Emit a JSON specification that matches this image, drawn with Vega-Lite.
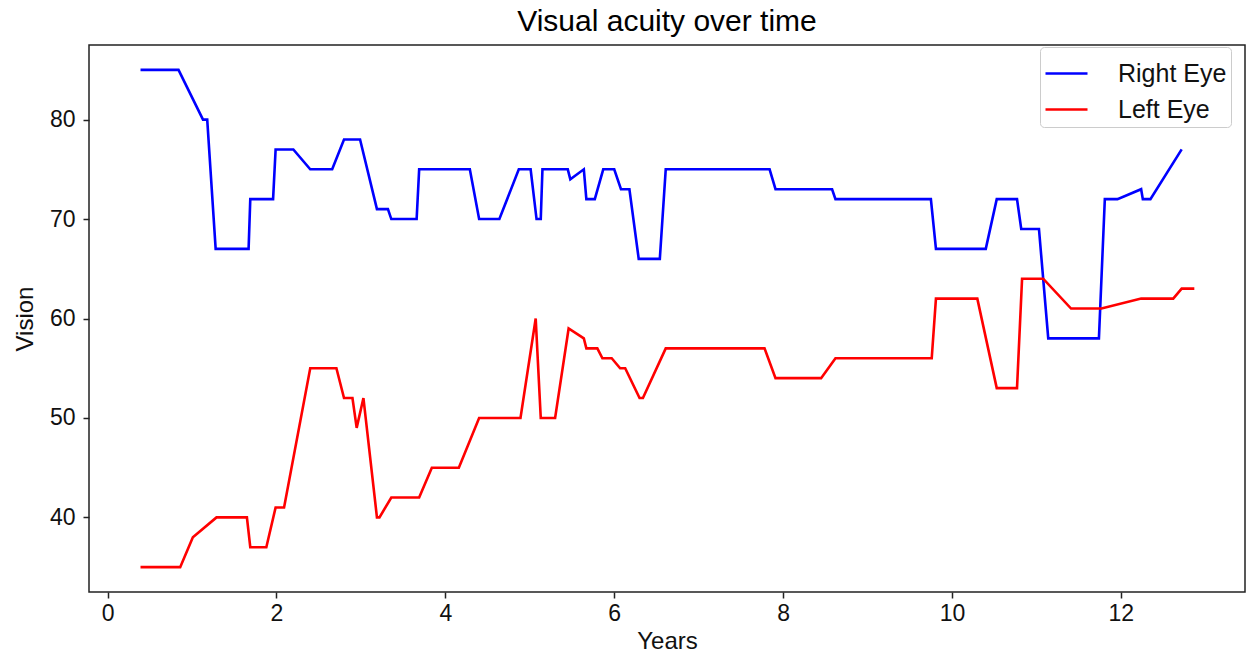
{
  "$schema": "https://vega.github.io/schema/vega-lite/v6.json",
  "autosize": "none",
  "width": 1156,
  "height": 547,
  "padding": {"left": 89, "top": 45, "right": 3, "bottom": 63},
  "background": "white",
  "title": {"text": "Visual acuity over time", "fontSize": 30, "font": "Liberation Sans", "fontWeight": "normal", "color": "#000", "anchor": "middle", "offset": 8},
  "config": {
    "font": "Liberation Sans",
    "view": {"stroke": "#222", "strokeWidth": 1.5},
    "axis": {"grid": false, "domain": false, "tickColor": "#222", "tickWidth": 1.5, "tickSize": 6, "labelFontSize": 23, "labelColor": "#111", "titleFontSize": 24, "titleFontWeight": "normal", "titleColor": "#111", "labelFont": "Liberation Sans", "titleFont": "Liberation Sans"}
  },
  "data": {"values": [
    {"Years": 0.39, "Vision": 85, "Eye": "Right Eye"},
    {"Years": 0.84, "Vision": 85, "Eye": "Right Eye"},
    {"Years": 1.13, "Vision": 80, "Eye": "Right Eye"},
    {"Years": 1.18, "Vision": 80, "Eye": "Right Eye"},
    {"Years": 1.28, "Vision": 67, "Eye": "Right Eye"},
    {"Years": 1.67, "Vision": 67, "Eye": "Right Eye"},
    {"Years": 1.69, "Vision": 72, "Eye": "Right Eye"},
    {"Years": 1.96, "Vision": 72, "Eye": "Right Eye"},
    {"Years": 1.99, "Vision": 77, "Eye": "Right Eye"},
    {"Years": 2.2, "Vision": 77, "Eye": "Right Eye"},
    {"Years": 2.4, "Vision": 75, "Eye": "Right Eye"},
    {"Years": 2.66, "Vision": 75, "Eye": "Right Eye"},
    {"Years": 2.8, "Vision": 78, "Eye": "Right Eye"},
    {"Years": 2.99, "Vision": 78, "Eye": "Right Eye"},
    {"Years": 3.19, "Vision": 71, "Eye": "Right Eye"},
    {"Years": 3.32, "Vision": 71, "Eye": "Right Eye"},
    {"Years": 3.36, "Vision": 70, "Eye": "Right Eye"},
    {"Years": 3.66, "Vision": 70, "Eye": "Right Eye"},
    {"Years": 3.69, "Vision": 75, "Eye": "Right Eye"},
    {"Years": 4.29, "Vision": 75, "Eye": "Right Eye"},
    {"Years": 4.4, "Vision": 70, "Eye": "Right Eye"},
    {"Years": 4.64, "Vision": 70, "Eye": "Right Eye"},
    {"Years": 4.87, "Vision": 75, "Eye": "Right Eye"},
    {"Years": 5.01, "Vision": 75, "Eye": "Right Eye"},
    {"Years": 5.08, "Vision": 70, "Eye": "Right Eye"},
    {"Years": 5.13, "Vision": 70, "Eye": "Right Eye"},
    {"Years": 5.15, "Vision": 75, "Eye": "Right Eye"},
    {"Years": 5.45, "Vision": 75, "Eye": "Right Eye"},
    {"Years": 5.48, "Vision": 74, "Eye": "Right Eye"},
    {"Years": 5.64, "Vision": 75, "Eye": "Right Eye"},
    {"Years": 5.67, "Vision": 72, "Eye": "Right Eye"},
    {"Years": 5.77, "Vision": 72, "Eye": "Right Eye"},
    {"Years": 5.87, "Vision": 75, "Eye": "Right Eye"},
    {"Years": 6.0, "Vision": 75, "Eye": "Right Eye"},
    {"Years": 6.08, "Vision": 73, "Eye": "Right Eye"},
    {"Years": 6.18, "Vision": 73, "Eye": "Right Eye"},
    {"Years": 6.29, "Vision": 66, "Eye": "Right Eye"},
    {"Years": 6.54, "Vision": 66, "Eye": "Right Eye"},
    {"Years": 6.61, "Vision": 75, "Eye": "Right Eye"},
    {"Years": 7.84, "Vision": 75, "Eye": "Right Eye"},
    {"Years": 7.91, "Vision": 73, "Eye": "Right Eye"},
    {"Years": 8.58, "Vision": 73, "Eye": "Right Eye"},
    {"Years": 8.62, "Vision": 72, "Eye": "Right Eye"},
    {"Years": 9.75, "Vision": 72, "Eye": "Right Eye"},
    {"Years": 9.81, "Vision": 67, "Eye": "Right Eye"},
    {"Years": 10.4, "Vision": 67, "Eye": "Right Eye"},
    {"Years": 10.53, "Vision": 72, "Eye": "Right Eye"},
    {"Years": 10.77, "Vision": 72, "Eye": "Right Eye"},
    {"Years": 10.82, "Vision": 69, "Eye": "Right Eye"},
    {"Years": 11.03, "Vision": 69, "Eye": "Right Eye"},
    {"Years": 11.14, "Vision": 58, "Eye": "Right Eye"},
    {"Years": 11.74, "Vision": 58, "Eye": "Right Eye"},
    {"Years": 11.81, "Vision": 72, "Eye": "Right Eye"},
    {"Years": 11.96, "Vision": 72, "Eye": "Right Eye"},
    {"Years": 12.24, "Vision": 73, "Eye": "Right Eye"},
    {"Years": 12.26, "Vision": 72, "Eye": "Right Eye"},
    {"Years": 12.35, "Vision": 72, "Eye": "Right Eye"},
    {"Years": 12.72, "Vision": 77, "Eye": "Right Eye"},
    {"Years": 0.39, "Vision": 35, "Eye": "Left Eye"},
    {"Years": 0.86, "Vision": 35, "Eye": "Left Eye"},
    {"Years": 1.01, "Vision": 38, "Eye": "Left Eye"},
    {"Years": 1.29, "Vision": 40, "Eye": "Left Eye"},
    {"Years": 1.65, "Vision": 40, "Eye": "Left Eye"},
    {"Years": 1.69, "Vision": 37, "Eye": "Left Eye"},
    {"Years": 1.88, "Vision": 37, "Eye": "Left Eye"},
    {"Years": 1.99, "Vision": 41, "Eye": "Left Eye"},
    {"Years": 2.09, "Vision": 41, "Eye": "Left Eye"},
    {"Years": 2.4, "Vision": 55, "Eye": "Left Eye"},
    {"Years": 2.71, "Vision": 55, "Eye": "Left Eye"},
    {"Years": 2.8, "Vision": 52, "Eye": "Left Eye"},
    {"Years": 2.9, "Vision": 52, "Eye": "Left Eye"},
    {"Years": 2.95, "Vision": 49, "Eye": "Left Eye"},
    {"Years": 3.03, "Vision": 52, "Eye": "Left Eye"},
    {"Years": 3.19, "Vision": 40, "Eye": "Left Eye"},
    {"Years": 3.22, "Vision": 40, "Eye": "Left Eye"},
    {"Years": 3.36, "Vision": 42, "Eye": "Left Eye"},
    {"Years": 3.69, "Vision": 42, "Eye": "Left Eye"},
    {"Years": 3.84, "Vision": 45, "Eye": "Left Eye"},
    {"Years": 4.16, "Vision": 45, "Eye": "Left Eye"},
    {"Years": 4.4, "Vision": 50, "Eye": "Left Eye"},
    {"Years": 4.89, "Vision": 50, "Eye": "Left Eye"},
    {"Years": 5.07, "Vision": 60, "Eye": "Left Eye"},
    {"Years": 5.13, "Vision": 50, "Eye": "Left Eye"},
    {"Years": 5.3, "Vision": 50, "Eye": "Left Eye"},
    {"Years": 5.46, "Vision": 59, "Eye": "Left Eye"},
    {"Years": 5.64, "Vision": 58, "Eye": "Left Eye"},
    {"Years": 5.67, "Vision": 57, "Eye": "Left Eye"},
    {"Years": 5.8, "Vision": 57, "Eye": "Left Eye"},
    {"Years": 5.86, "Vision": 56, "Eye": "Left Eye"},
    {"Years": 5.97, "Vision": 56, "Eye": "Left Eye"},
    {"Years": 6.07, "Vision": 55, "Eye": "Left Eye"},
    {"Years": 6.13, "Vision": 55, "Eye": "Left Eye"},
    {"Years": 6.3, "Vision": 52, "Eye": "Left Eye"},
    {"Years": 6.34, "Vision": 52, "Eye": "Left Eye"},
    {"Years": 6.61, "Vision": 57, "Eye": "Left Eye"},
    {"Years": 7.78, "Vision": 57, "Eye": "Left Eye"},
    {"Years": 7.91, "Vision": 54, "Eye": "Left Eye"},
    {"Years": 8.45, "Vision": 54, "Eye": "Left Eye"},
    {"Years": 8.62, "Vision": 56, "Eye": "Left Eye"},
    {"Years": 9.76, "Vision": 56, "Eye": "Left Eye"},
    {"Years": 9.81, "Vision": 62, "Eye": "Left Eye"},
    {"Years": 10.3, "Vision": 62, "Eye": "Left Eye"},
    {"Years": 10.53, "Vision": 53, "Eye": "Left Eye"},
    {"Years": 10.77, "Vision": 53, "Eye": "Left Eye"},
    {"Years": 10.83, "Vision": 64, "Eye": "Left Eye"},
    {"Years": 11.08, "Vision": 64, "Eye": "Left Eye"},
    {"Years": 11.41, "Vision": 61, "Eye": "Left Eye"},
    {"Years": 11.77, "Vision": 61, "Eye": "Left Eye"},
    {"Years": 12.24, "Vision": 62, "Eye": "Left Eye"},
    {"Years": 12.62, "Vision": 62, "Eye": "Left Eye"},
    {"Years": 12.72, "Vision": 63, "Eye": "Left Eye"},
    {"Years": 12.87, "Vision": 63, "Eye": "Left Eye"}
  ]},
  "mark": {"type": "line", "strokeWidth": 2.6, "clip": true},
  "encoding": {
    "x": {"field": "Years", "type": "quantitative", "scale": {"domain": [-0.22, 13.47], "nice": false, "zero": false}, "axis": {"values": [0, 2, 4, 6, 8, 10, 12], "title": "Years", "labelPadding": 4, "titlePadding": 4}},
    "y": {"field": "Vision", "type": "quantitative", "scale": {"domain": [32.5, 87.5], "nice": false, "zero": false}, "axis": {"values": [40, 50, 60, 70, 80], "title": "Vision", "labelPadding": 8, "titlePadding": 12}},
    "color": {"field": "Eye", "type": "nominal", "sort": ["Right Eye", "Left Eye"], "scale": {"domain": ["Right Eye", "Left Eye"], "range": ["#0000ff", "#ff0000"]},
      "legend": {"title": null, "orient": "none", "legendX": 951, "legendY": 2, "padding": 4, "fillColor": "white", "strokeColor": "#cccccc", "cornerRadius": 4, "labelFontSize": 25, "labelColor": "#111", "labelFont": "Liberation Sans", "symbolType": "stroke", "symbolSize": 1764, "symbolStrokeWidth": 2.6, "labelOffset": 29, "rowPadding": -11}}
  }
}
